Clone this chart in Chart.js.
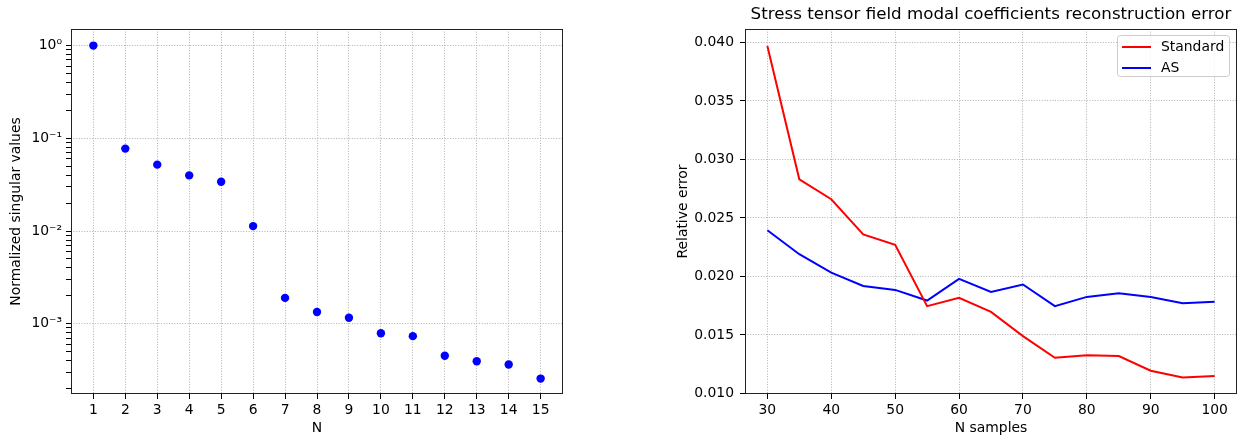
<!DOCTYPE html>
<html>
<head>
<meta charset="utf-8">
<script src="https://cdn.jsdelivr.net/npm/chart.js@4"></script>
<style>
  body { margin: 0; background: #fff; width: 1245px; height: 437px; overflow: hidden; position: relative; }
  canvas { position: absolute; top: 0; }
  #svChart { left: 0; }
  #errChart { left: 622px; }
</style>
</head>
<body>
<canvas id="svChart" width="622" height="437"></canvas>
<canvas id="errChart" width="623" height="437"></canvas>
<script>
// left plot: normalized singular values
const modes = [1, 2, 3, 4, 5, 6, 7, 8, 9, 10, 11, 12, 13, 14, 15];
const singularValues = [1.0, 0.0774, 0.052, 0.0398, 0.034, 0.0113, 0.0019, 0.00134, 0.00116,
  0.00079, 0.000735, 0.000451, 0.000394, 0.000363, 0.000256];
const logTicks = [1e-3, 1e-2, 1e-1, 1];
const logTickLabels = ['10⁻³', '10⁻²', '10⁻¹', '10⁰'];

// right plot: reconstruction error
const nSamples = [30, 35, 40, 45, 50, 55, 60, 65, 70, 75, 80, 85, 90, 95, 100];
const errStandard = [0.0397, 0.0283, 0.0266, 0.0236, 0.0227, 0.01746, 0.01817, 0.01697, 0.0149,
  0.01305, 0.01327, 0.01319, 0.01194, 0.01137, 0.01148];
const errAS = [0.02395, 0.0219, 0.02033, 0.01919, 0.01885, 0.01794, 0.01979, 0.01868, 0.01931,
  0.01746, 0.01825, 0.01857, 0.01825, 0.01771, 0.01783];
const sampleTicks = [30, 40, 50, 60, 70, 80, 90, 100];
const errTicks = [0.010, 0.015, 0.020, 0.025, 0.030, 0.035, 0.040];

Chart.defaults.font.family = '"DejaVu Sans", sans-serif';
Chart.defaults.font.size = 13.9;
Chart.defaults.color = '#000';

// minor ticks of the log axis (2..9 x each decade)
const logAllTicks = [];
[1e-4, 1e-3, 1e-2, 1e-1, 1].forEach(b => {
  for (let m = 1; m <= 9; m++) logAllTicks.push(m * b);
});

const gridOpts = {
  color: '#b0b0b0',
  lineWidth: 1,
  tickLength: 5,
  tickColor: '#000',
  tickWidth: 1,
  tickBorderDash: []
};
const borderOpts = { display: false, dash: [1, 1.65] };

const frame = {
  id: 'frame',
  afterDatasetsDraw(chart) {
    const { ctx, chartArea: a } = chart;
    ctx.save();
    ctx.strokeStyle = '#222';
    ctx.lineWidth = 1;
    ctx.strokeRect(Math.round(a.left) + 0.5, Math.round(a.top) + 0.5,
      Math.round(a.width) - 1, Math.round(a.height) - 1);
    ctx.restore();
  }
};

const legendBox = {
  id: 'legendBox',
  afterDraw(chart) {
    const { ctx, chartArea: a } = chart;
    const w = 112, h = 41;
    const x = Math.round(a.right - 8 - w), y = Math.round(a.top + 6);
    ctx.save();
    ctx.beginPath();
    ctx.roundRect(x + 0.5, y + 0.5, w, h, 3);
    ctx.fillStyle = 'rgba(255,255,255,0.8)';
    ctx.fill();
    ctx.strokeStyle = '#cccccc';
    ctx.lineWidth = 1;
    ctx.stroke();
    ctx.font = '13.9px "DejaVu Sans"';
    ctx.textBaseline = 'middle';
    chart.data.datasets.forEach((ds, i) => {
      const yy = y + 12 + i * 21;
      ctx.strokeStyle = ds.borderColor;
      ctx.lineWidth = ds.borderWidth;
      ctx.beginPath();
      ctx.moveTo(x + 5, yy);
      ctx.lineTo(x + 34, yy);
      ctx.stroke();
      ctx.fillStyle = '#000';
      ctx.fillText(ds.label, x + 44, yy);
    });
    ctx.restore();
  }
};

new Chart(document.getElementById('svChart'), {
  type: 'scatter',
  data: {
    datasets: [{
      data: modes.map((n, i) => ({ x: n, y: singularValues[i] })),
      backgroundColor: '#0000ff',
      borderWidth: 0,
      pointRadius: 4.2
    }]
  },
  options: {
    responsive: false,
    animation: false,
    events: [],
    layout: { padding: { top: 29, right: 59, bottom: 0, left: 0 } },
    plugins: { legend: { display: false }, tooltip: { enabled: false } },
    scales: {
      x: {
        type: 'linear',
        min: 0.3,
        max: 15.7,
        afterBuildTicks: s => { s.ticks = modes.map(v => ({ value: v })); },
        afterFit: s => { s.height = 43; },
        ticks: { autoSkip: false, maxRotation: 0, padding: 3 },
        grid: gridOpts,
        border: borderOpts,
        title: { display: true, text: 'N', padding: { top: 0, bottom: 0.7 } }
      },
      y: {
        type: 'logarithmic',
        min: 1.746e-4,
        max: 1.51,
        afterBuildTicks: s => {
          s.ticks = logAllTicks.filter(v => v > s.min && v < s.max).map(v => ({ value: v }));
        },
        afterFit: s => { s.width = 71; },
        ticks: {
          autoSkip: false,
          padding: 4,
          callback: v => {
            const k = logTicks.findIndex(t => Math.abs(t - v) / t < 1e-6);
            return k >= 0 ? logTickLabels[k] : '';
          }
        },
        grid: {
          ...gridOpts,
          color: c => logTicks.some(t => c.tick && Math.abs(t - c.tick.value) / t < 1e-6) ? '#b0b0b0' : 'rgba(0,0,0,0)'
        },
        border: borderOpts,
        title: { display: true, text: 'Normalized singular values', padding: { top: 7.7, bottom: 0 } }
      }
    }
  },
  plugins: [frame]
});

new Chart(document.getElementById('errChart'), {
  type: 'line',
  data: {
    datasets: [{
      label: 'Standard',
      data: nSamples.map((n, i) => ({ x: n, y: errStandard[i] })),
      borderColor: '#ff0000',
      borderWidth: 2,
      pointRadius: 0,
      tension: 0
    }, {
      label: 'AS',
      data: nSamples.map((n, i) => ({ x: n, y: errAS[i] })),
      borderColor: '#0000ff',
      borderWidth: 2,
      pointRadius: 0,
      tension: 0
    }]
  },
  options: {
    responsive: false,
    animation: false,
    events: [],
    layout: { padding: { top: 0, right: 8, bottom: 0, left: 0 } },
    plugins: {
      legend: { display: false },
      tooltip: { enabled: false },
      title: {
        display: true,
        fullSize: false,
        text: 'Stress tensor field modal coefficients reconstruction error',
        color: '#000',
        font: { size: 16.7, weight: 'normal' },
        padding: { top: 5, bottom: 4 }
      }
    },
    scales: {
      x: {
        type: 'linear',
        min: 26.5,
        max: 103.5,
        afterBuildTicks: s => { s.ticks = sampleTicks.map(v => ({ value: v })); },
        afterFit: s => { s.height = 43; },
        ticks: { autoSkip: false, maxRotation: 0, padding: 3 },
        grid: gridOpts,
        border: borderOpts,
        title: { display: true, text: 'N samples', padding: { top: 0, bottom: 0.7 } }
      },
      y: {
        type: 'linear',
        min: 0.00995,
        max: 0.04115,
        afterBuildTicks: s => { s.ticks = errTicks.map(v => ({ value: v })); },
        afterFit: s => { s.width = 123; },
        ticks: { autoSkip: false, padding: 6, callback: v => v.toFixed(3) },
        grid: gridOpts,
        border: borderOpts,
        title: { display: true, text: 'Relative error', padding: { top: 53.2, bottom: 0 } }
      }
    }
  },
  plugins: [frame, legendBox]
});
</script>
</body>
</html>
